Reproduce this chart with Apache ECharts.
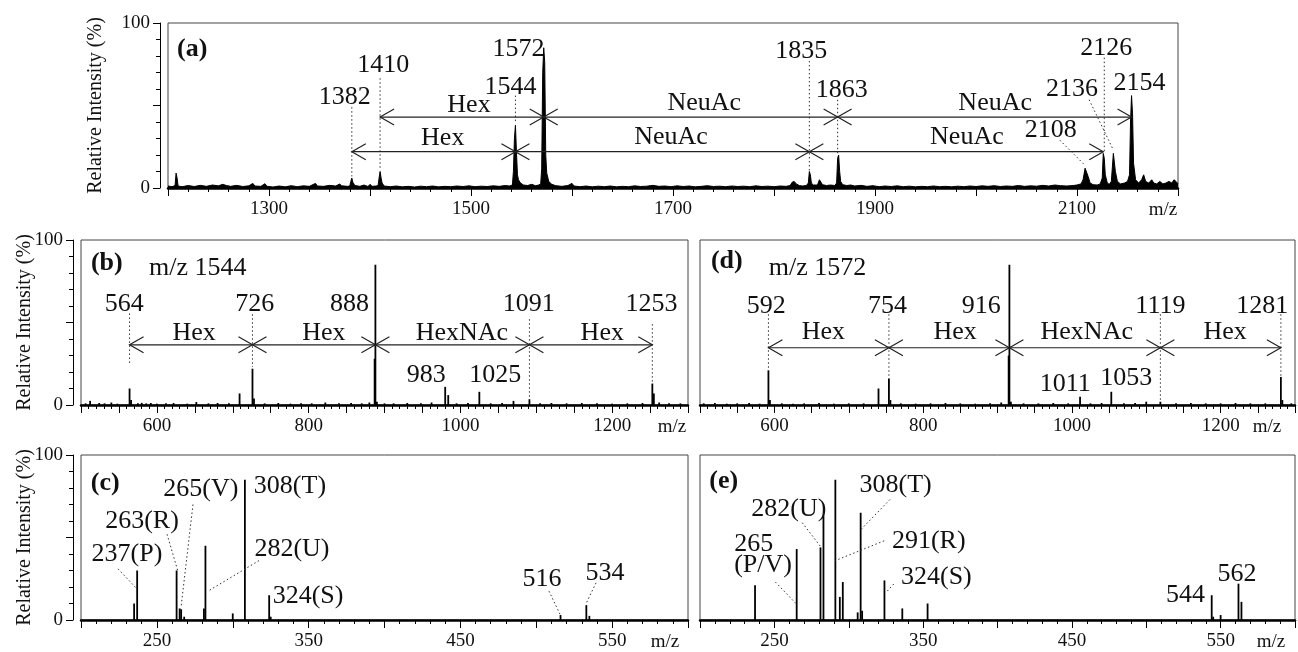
<!DOCTYPE html>
<html><head><meta charset="utf-8">
<script src="https://cdn.jsdelivr.net/npm/echarts@6/dist/echarts.min.js"></script>
<style>html,body{margin:0;padding:0;background:#fff}#c{width:1298px;height:652px}</style>
</head><body><div id="c"></div>
<script>
// ---------- DATA ----------
// panel (a) MS profile [m/z, %]
const spectrumA = [
 [1200,1.2],[1204,0.8],[1207,1.5],[1208,9],[1209,6],[1210,1.2],[1214,0.8],[1220,1.5],[1226,0.9],[1232,1.6],[1238,1.0],[1244,1.8],[1250,1.3],[1254,2.2],[1258,1.5],[1262,1.0],[1268,1.6],[1274,0.9],[1280,1.3],[1284,2.8],[1286,1.2],[1292,1.0],[1296,2.6],[1298,1.0],[1304,0.6],[1310,1.2],[1316,0.7],[1322,1.4],[1328,0.8],[1334,1.3],[1340,1.0],[1346,2.8],[1348,1.2],[1354,1.0],[1360,1.6],[1366,1.2],[1370,2.4],[1372,1.3],[1378,1.0],
 [1380,1.2],[1381,4],[1382,6],[1383,3.5],[1385,1.5],[1390,1.0],[1394,1.8],[1398,0.9],[1400,2.2],[1402,1.0],[1406,1.2],
 [1408,1.5],[1409,6],[1410,10],[1411,6],[1412,3],[1414,1.2],[1420,0.8],[1426,1.2],[1432,0.7],[1438,1.0],[1444,0.6],[1450,1.1],[1456,0.8],[1462,1.2],[1468,0.7],[1474,1.0],[1480,0.8],[1486,1.2],[1492,0.9],[1498,1.3],[1504,0.8],[1510,1.1],[1516,0.9],[1522,1.3],[1528,1.0],[1534,1.5],[1538,1.2],
 [1541,1.8],[1542,10],[1543,30],[1544,38],[1545,22],[1546,8],[1547,5],[1549,3],[1552,1.8],[1556,1.5],[1560,2.2],[1564,1.4],[1567,1.8],
 [1569,2.5],[1570,12],[1571,70],[1572,85],[1573,76],[1574,20],[1575,9],[1577,4],[1580,2.2],[1584,1.4],[1590,1.0],[1596,1.5],[1600,2.8],[1602,1.2],[1608,0.8],[1614,1.2],[1620,0.7],[1626,1.1],[1632,0.8],[1638,1.2],[1644,0.7],[1650,1.0],[1656,0.8],[1662,1.3],[1668,0.9],[1674,1.1],[1680,1.6],[1686,1.0],[1692,1.2],[1698,0.8],[1704,1.3],[1710,0.9],[1716,1.2],[1722,0.7],[1728,1.0],[1734,1.4],[1740,0.9],[1746,1.1],[1752,0.8],[1758,1.2],[1764,0.9],[1770,1.1],[1776,0.8],[1782,1.3],[1788,0.9],[1794,1.1],[1800,0.8],[1806,1.2],[1812,1.0],
 [1816,1.5],[1818,3.5],[1820,4],[1822,2.5],[1825,1.5],[1828,1.2],[1832,1.5],
 [1834,3],[1835,10],[1836,8],[1837,3],[1839,1.8],
 [1843,1.8],[1845,5],[1846,4],[1848,2],[1852,1.5],[1856,1.8],[1860,1.5],
 [1862,3],[1863,18],[1864,20],[1865,10],[1866,4],[1868,2],[1872,1.5],[1876,1.8],[1880,1.2],[1886,1.6],[1892,1.0],[1898,1.4],[1904,0.8],[1910,1.2],[1916,0.9],[1922,1.3],[1928,0.8],[1934,1.1],[1940,0.7],[1946,1.0],[1952,0.8],[1958,1.2],[1964,0.8],[1970,1.0],[1976,0.7],[1982,1.1],[1988,0.8],[1994,1.2],[2000,0.9],[2006,1.3],[2012,1.0],[2018,1.4],[2024,0.9],[2030,1.2],[2036,1.0],[2042,1.5],[2048,1.0],[2054,1.3],[2060,1.1],[2066,1.6],[2072,1.2],[2078,1.8],[2084,1.4],[2090,1.2],[2096,1.5],[2100,1.8],[2104,2.5],
 [2106,5],[2108,12],[2109,13],[2111,7],[2113,3],[2116,2],[2120,1.8],[2123,2.5],
 [2125,6],[2126,21],[2127,18],[2128,8],[2130,3],[2132,2.2],
 [2134,4],[2136,21],[2137,22],[2138,10],[2140,4],[2143,2.5],[2147,3],[2150,4],
 [2152,8],[2153,40],[2154,56],[2155,45],[2156,15],[2158,5],[2161,3],[2164,5],[2166,8],[2168,4],[2171,3],[2174,5],[2176,3],[2179,2.5],[2182,4],[2185,2.5],[2188,3],[2191,4],[2194,3],[2196,5],[2198,4],[2200,2.5]
];
// stick spectra [m/z, %]
const sticksB = [[506,1],[512,2.5],[524,1.2],[531,1],[540,1.5],[548,0.8],[564,10],[566,3],[575,1],[580,1.3],[586,1],[592,1.2],[600,0.8],[612,1],[622,1.2],[640,0.8],[652,1.8],[668,1],[680,1.2],[695,1],[709,7],[726,22],[728,4],[742,1],[760,1.2],[776,0.8],[790,1],[804,1],[822,1.5],[840,1],[856,1.2],[870,1],[880,1.5],[887,28],[888,85],[890,2],[900,1],[912,1],[930,1.2],[948,1],[962,1.5],[980,11],[984,6],[995,1],[1010,1.2],[1025,8],[1040,1],[1055,1.2],[1070,2.5],[1091,3.5],[1105,1],[1120,1.2],[1140,1],[1160,1.2],[1180,1],[1200,0.8],[1220,1],[1240,1.2],[1253,13],[1255,7],[1262,1.5],[1275,1],[1290,1]];
const sticksD = [[505,1],[520,1.2],[536,0.8],[550,1],[566,1.2],[580,0.8],[592,21],[594,3],[610,1],[625,0.8],[640,1],[660,1.2],[680,0.8],[700,1],[720,1],[740,10],[754,16],[756,3],[770,1],[790,0.8],[810,1],[830,1.2],[850,1],[870,0.8],[890,1],[905,1.5],[915,30],[916,85],[918,2],[935,1],[955,1],[975,1.2],[995,1],[1011,5],[1025,1],[1040,1.2],[1053,8],[1070,1],[1085,1.2],[1100,2],[1119,2],[1140,1],[1160,1.2],[1180,1],[1200,1],[1220,1.2],[1240,1],[1260,1],[1281,17],[1283,3],[1295,1]];
const sticksC = [[235,10],[237,30],[263,30],[265,7],[266,6.5],[268,2],[281,7],[282,45],[300,4],[308,85],[324,15],[325,2],[516,3],[533,9],[535,2.5]];
const sticksE = [[237,21],[265,43],[281,44],[283,63],[291,85],[294,14],[296,23],[306,4.6],[308,65],[309,5.6],[324,24],[336,7],[353,10],[544,15],[545,2],[550,3],[562,22],[564,11]];

// annotations: [text, m/z, %, flags]
const labelsA = [['(a)',1224,84,'b'],['1382',1375,55],['1410',1413,74.5],['1544',1539,61],['1572',1547,84],['1835',1827,83],['1863',1867,59.5],['2108',2074,35],['2136',2095,60],['2126',2129,85],['2154',2162,63.5],['Hex',1498,50],['Hex',1472,30],['NeuAc',1731,51.5],['NeuAc',1698,31],['NeuAc',2019,51.5],['NeuAc',1991,31]];
const arrowsA = [[1410,1572,43],[1572,1863,43],[1863,2154,43],[1382,1544,22],[1544,1835,22],[1835,2126,22]];
const leadersA = [[1382,49,1382,7],[1410,66.5,1410,10.7],[1544,56,1544,39],[1835,77,1835,10],[1863,53.5,1863,20],[2127,79,2127,22],[2083,29,2107.5,14],[2112,53.5,2136,23]];

const labelsB = [['(b)',534,86,'b'],['m/z 1544',654,83],['564',557,61],['726',729,61],['888',854,61],['1091',1090,61],['1253',1252,61],['Hex',649,43.5],['Hex',820,43.5],['HexNAc',1002,43.5],['Hex',1187,43.5],['983',955,18],['1025',1046,18]];
const arrowsB = [[564,726,36.5],[726,888,36.5],[888,1091,36.5],[1091,1253,36.5]];
const leadersB = [[564,55.5,564,24],[726,55,726,23],[1091,52,1091,4],[1253,49,1253,14]];

const labelsD = [['(d)',536,87,'b'],['m/z 1572',658,83],['592',589,60],['754',752,60],['916',878,60],['1119',1119,60],['1281',1256,60],['Hex',666,44],['Hex',843,44],['HexNAc',1020,44],['Hex',1206,44],['1011',991,12.7],['1053',1073,16]];
const arrowsD = [[592,754,34.7],[754,916,34.7],[916,1119,34.7],[1119,1281,34.7]];
const leadersD = [[592,55,592,21],[754,55,754,16],[1119,55,1119,2],[1281,55,1281,17]];

const labelsC = [['(c)',216,83,'b'],['237(P)',230.3,40],['263(R)',240.2,60],['265(V)',279,79],['308(T)',337.7,81],['282(U)',339,43],['324(S)',349.6,14.5],['516',503.8,24.5],['534',545.3,28.4]];
const leadersC = [[224.4,31,236.2,19.5],[256.7,52,263.7,30],[273.8,70,265.9,7.5],[317.3,36,283.7,17.5],[508.4,17.5,515.6,3.6],[539.4,22.5,532.6,9.5]];

const labelsE = [['(e)',216,84,'b'],['265',223,46,'l'],['(P/V)',223,33,'l'],['282(U)',259.7,67],['308(T)',331.5,82],['291(R)',353.8,47.6],['324(S)',358.9,26],['544',526.4,15.3],['562',561,28]];
const leadersE = [[250.7,23,264.8,9.7],[268.7,59,281.5,44],[327.7,73,308.4,55],[323.8,48,291,36],[330.2,21.8,325.1,16.7]];

// tick labels
const tickLabelsA = [1300,1500,1700,1900,2100];
const tickLabelsBD = [600,800,1000,1200];
const tickLabelsCE = [250,350,450,550];
const yTickLabels = [0,100];

// ---------- CHART ----------
const SERIF = 'Liberation Serif';
const INK = '#111';

const grids = [
  {left:168, top:23,  width:1010, height:165},
  {left:81,  top:240, width:607,  height:165},
  {left:81,  top:455, width:607,  height:168},
  {left:700, top:240, width:607,  height:165},
  {left:700, top:455, width:607,  height:168}
].map(g => Object.assign({show:true, borderColor:'#444', borderWidth:1, backgroundColor:'transparent'}, g));

function xAx(g, min, max, interval, labs, nameGap) {
  return {
    type:'value', gridIndex:g, min, max, interval,
    axisLine:{show:true, onZero:false, lineStyle:{color:'#000', width:2.5}},
    axisTick:{show:true, length:8, lineStyle:{color:'#000', width:1}},
    minorTick:{show:true, splitNumber:5, length:4, lineStyle:{color:'#000', width:1}},
    splitLine:{show:false}, minorSplitLine:{show:false},
    axisLabel:{formatter:v => labs.includes(v) ? String(v) : '', fontFamily:SERIF, fontSize:19, color:INK, margin:12},
    name:'m/z', nameLocation:'end', nameGap, nameMoveOverlap:false,
    nameTextStyle:{fontFamily:SERIF, fontSize:19, color:INK, align:'center', verticalAlign:'top', padding:[13,0,0,0]}
  };
}
function yAx(g, show, nameGap) {
  if (!show) return {type:'value', gridIndex:g, min:0, max:100, show:false};
  return {
    type:'value', gridIndex:g, min:0, max:100, interval:50, offset:8,
    axisLine:{show:true, lineStyle:{color:'#000', width:1}},
    axisTick:{show:true, length:7, lineStyle:{color:'#000', width:1}},
    minorTick:{show:true, splitNumber:5, length:4, lineStyle:{color:'#000', width:1}},
    splitLine:{show:false}, minorSplitLine:{show:false},
    axisLabel:{formatter:v => yTickLabels.includes(v) ? String(v) : '', fontFamily:SERIF, fontSize:19, color:INK, margin:10},
    name:'Relative Intensity (%)', nameLocation:'middle', nameRotate:90, nameGap, nameMoveOverlap:false,
    nameTextStyle:{fontFamily:SERIF, fontSize:20, color:INK}
  };
}

function textSeries(g, items) {
  return {type:'custom', xAxisIndex:g, yAxisIndex:g, silent:true, z:10, clip:false,
    data: items.map(d => [d[1], d[2]]),
    renderItem:(params, api) => {
      const it = items[params.dataIndex];
      const f = it[3] || '';
      const p = api.coord([api.value(0), api.value(1)]);
      return {type:'text', x:p[0], y:p[1], style:{text:it[0], fill:INK, fontFamily:SERIF, fontSize:26,
        fontWeight: f.includes('b') ? 'bold' : 'normal', align: f.includes('l') ? 'left' : 'center', verticalAlign:'middle'}};
    }};
}
function arrowSeries(g, arrows) {
  return {type:'custom', xAxisIndex:g, yAxisIndex:g, silent:true, z:6, clip:false,
    data: arrows.map(a => [a[0], a[2]]),
    renderItem:(params, api) => {
      const a = arrows[params.dataIndex];
      const p1 = api.coord([a[0], a[2]]), p2 = api.coord([a[1], a[2]]);
      const hx = 14, hy = 8;
      const st = {stroke:'#222', lineWidth:1.2, fill:null};
      return {type:'group', children:[
        {type:'line', shape:{x1:p1[0], y1:p1[1], x2:p2[0], y2:p2[1]}, style:st},
        {type:'polyline', shape:{points:[[p1[0]+hx, p1[1]-hy],[p1[0], p1[1]],[p1[0]+hx, p1[1]+hy]]}, style:st},
        {type:'polyline', shape:{points:[[p2[0]-hx, p2[1]-hy],[p2[0], p2[1]],[p2[0]-hx, p2[1]+hy]]}, style:st}
      ]};
    }};
}
function leaderSeries(g, leaders) {
  return {type:'custom', xAxisIndex:g, yAxisIndex:g, silent:true, z:5, clip:false,
    data: leaders.map(l => [l[0], l[1]]),
    renderItem:(params, api) => {
      const l = leaders[params.dataIndex];
      const p1 = api.coord([l[0], l[1]]), p2 = api.coord([l[2], l[3]]);
      return {type:'line', shape:{x1:p1[0], y1:p1[1], x2:p2[0], y2:p2[1]},
        style:{stroke:'#333', lineWidth:1, lineDash:[1.5, 2.5]}};
    }};
}
function stickSeries(g, sticks) {
  return {type:'custom', xAxisIndex:g, yAxisIndex:g, silent:true, z:4,
    data: sticks,
    renderItem:(params, api) => {
      const m = api.value(0), h = api.value(1);
      const p0 = api.coord([m, 0]), p1 = api.coord([m, h]);
      return {type:'line', shape:{x1:p0[0], y1:p0[1], x2:p1[0], y2:p1[1]},
        style:{stroke:'#000', lineWidth:1.8}};
    }};
}

const option = {
  animation:false,
  backgroundColor:'#fff',
  grid: grids,
  xAxis: [
    xAx(0, 1200, 2200, 100, tickLabelsA, -15),
    xAx(1, 500, 1300, 50, tickLabelsBD, -16),
    xAx(2, 200, 600, 50, tickLabelsCE, -23),
    xAx(3, 500, 1300, 50, tickLabelsBD, -28),
    xAx(4, 200, 600, 50, tickLabelsCE, -24)
  ],
  yAxis: [yAx(0, true, 54), yAx(1, true, 38), yAx(2, true, 38), yAx(3, false), yAx(4, false)],
  series: [
    {type:'line', xAxisIndex:0, yAxisIndex:0, data:spectrumA, symbol:'none', showSymbol:false, silent:true,
      lineStyle:{color:'#000', width:1}, areaStyle:{color:'#000', opacity:1}, z:3},
    stickSeries(1, sticksB), stickSeries(2, sticksC), stickSeries(3, sticksD), stickSeries(4, sticksE),
    arrowSeries(0, arrowsA), arrowSeries(1, arrowsB), arrowSeries(3, arrowsD),
    leaderSeries(0, leadersA), leaderSeries(1, leadersB), leaderSeries(2, leadersC), leaderSeries(3, leadersD), leaderSeries(4, leadersE),
    textSeries(0, labelsA), textSeries(1, labelsB), textSeries(2, labelsC), textSeries(3, labelsD), textSeries(4, labelsE)
  ]
};
const chart = echarts.init(document.getElementById('c'), null, {renderer:'canvas'});
chart.setOption(option);
</script></body></html>
